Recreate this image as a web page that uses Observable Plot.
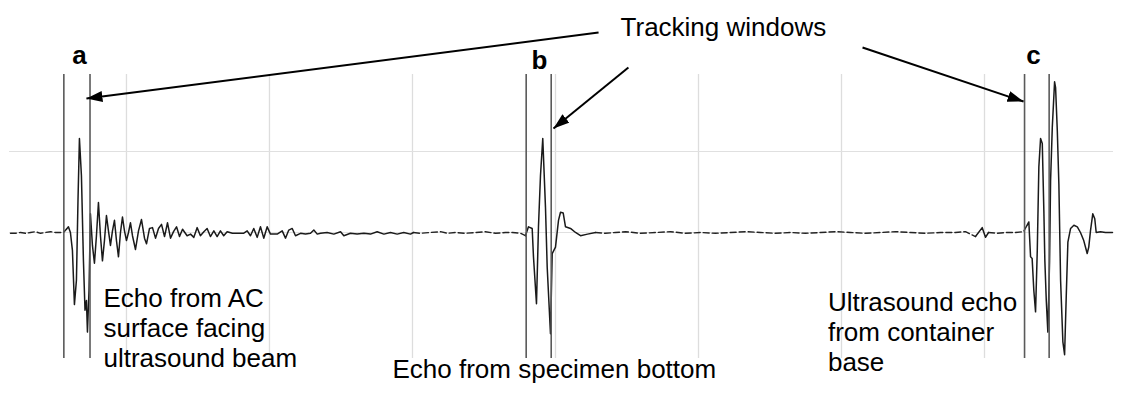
<!DOCTYPE html>
<html>
<head>
<meta charset="utf-8">
<script src="https://cdn.jsdelivr.net/npm/d3@7"></script>
<script src="https://cdn.jsdelivr.net/npm/@observablehq/plot@0.6"></script>
<style>
  html, body { margin: 0; padding: 0; background: #fff; }
  #chart svg { display: block; }
</style>
</head>
<body>
<div id="chart"></div>
<script>
// ---- Data (time in arbitrary sample units, amplitude in grid units) ----
const gridTimes = [100, 200, 300, 400, 500, 600, 700];
const gridAmps = [0, 1];

// tracking-window edges (a, b, c)
const windowEdges = [56.2, 74.5, 379.5, 397.0, 728.0, 745.2];

const preEcho = [[18.9,-0.01],[22.4,-0.01],[25.9,0],[29.4,-0.01],[32.9,0],[36.4,0.01],[39.9,-0.01],[43.4,0],[46.9,0.01],[50.3,0],[53.8,0],[56.0,0]];

const echoA = [[58.0,0.04],[59.4,0.07],[60.8,0],[62.2,-0.22],[63.6,-0.89],[65.0,-0.59],[66.1,0.40],[67.1,1.16],[68.5,0.70],[69.9,-0.35],[71.0,-0.96],[72.0,-0.84],[72.7,-1.23],[73.8,-0.72],[74.8,0.23],[76.2,-0.16],[77.6,-0.38],[79.0,-0.04],[80.4,0.37],[81.8,-0.04],[83.2,-0.35],[84.6,-0.10],[86.0,0.21],[87.4,0.02],[88.8,-0.16],[90.2,0.02],[91.6,0.15],[93.0,-0.10],[94.4,-0.30],[95.8,0],[97.2,0.19],[98.6,0.02],[100.0,-0.10],[101.4,0],[102.8,0.12],[104.2,-0.04],[106.3,-0.21],[108.4,0.02],[110.5,0.16],[112.6,-0.07],[114.0,-0.14],[116.1,0.05],[118.2,0.06],[120.3,-0.07],[122.4,0.05],[124.5,0.10],[126.6,-0.05],[128.7,0.12],[130.8,-0.07],[132.9,0.01],[135.0,0.07],[137.1,-0.05],[139.2,0.04]];

const decay = [[142.4,-0.04],[144.8,-0.02],[147.1,-0.06],[149.4,0.06],[151.7,-0.04],[154.1,0.01],[156.4,0.05],[158.7,-0.05],[161.1,0.02],[163.4,-0.05],[165.7,0.02],[168.0,-0.04],[170.4,0.01],[174.1,-0.01],[178.3,-0.01],[181.8,-0.01],[184.4,0.02],[186.7,-0.04],[189.0,0.05],[191.4,-0.06],[193.7,0.07],[196.0,-0.07],[198.4,0.07],[200.7,-0.02],[205.4,-0.02],[208.9,0.02],[211.2,-0.07],[213.5,0.03],[215.9,0.05],[218.2,-0.04],[221.7,-0.01],[225.2,-0.02],[228.7,-0.01],[231.0,0.03],[233.4,-0.02],[235.7,-0.01],[240.3,0],[245.0,-0.02],[249.7,0.01],[252.0,-0.04],[256.6,-0.01],[261.3,-0.02],[266.0,-0.01],[270.6,-0.02],[275.3,0.01],[280.0,-0.02],[284.6,0],[289.3,-0.02],[293.9,0],[298.6,-0.02],[300.7,0]];

const lateNoise = [[305.6,-0.01],[312.6,0],[319.6,0.01],[324.5,-0.01],[330.0,0],[337.1,-0.01],[344.1,0],[351.0,0.01],[358.0,-0.01],[365.0,0],[369.9,0],[375.5,-0.01]];

const echoB = [[379.0,-0.04],[381.1,0.07],[383.7,0.05],[384.6,-0.30],[386.7,-0.88],[388.1,0.07],[389.5,0.70],[391.1,1.16],[393.0,0.31],[394.2,-0.43],[396.5,-1.25],[397.7,-0.26],[400.0,-0.18],[402.1,0.15],[403.5,0.25],[405.4,0.24],[407.0,0.07],[410.5,0.05],[414.0,0],[417.5,-0.04],[422.4,-0.02],[428.0,0]];

const quiet = [[435.0,-0.01],[442.0,0],[449.0,0.01],[459.4,-0.01],[469.9,0],[480.4,0.01],[490.9,-0.01],[501.4,0],[511.9,-0.01],[522.4,0],[532.9,0.01],[543.4,0],[553.8,-0.01],[564.3,0],[574.8,-0.01],[585.3,0],[595.8,0.01],[606.3,0],[616.8,-0.01],[627.3,0],[637.8,0.01],[648.3,0],[658.7,-0.01],[669.2,0],[679.7,0],[686.7,0.01]];

const bumpNearC = [[693.7,-0.05],[698.4,0.06],[700.7,-0.06],[702.8,0]];

const preC = [[708.9,-0.01],[714.6,0],[721.7,0],[727.3,0.01]];

const echoC = [[729.8,0.09],[731.0,0.13],[732.2,-0.30],[733.3,-0.32],[734.5,-0.72],[735.7,-0.98],[736.9,-0.22],[738.0,0.81],[739.2,1.16],[740.4,1.10],[741.5,0.27],[742.2,-0.35],[743.2,-0.84],[744.3,-1.23],[745.5,-0.35],[746.2,0.64],[747.4,1.30],[749.0,1.86],[749.7,1.79],[750.9,1.26],[752.0,0.60],[753.2,-0.59],[754.8,-1.35],[756.0,-1.51],[757.2,-0.76],[758.3,-0.12],[760.2,0.05],[762.5,0.09],[764.9,0.07],[767.1,0],[769.4,-0.10],[771.8,-0.26],[772.9,-0.18],[774.1,0.02],[775.7,0.23],[777.1,0.17],[778.1,0],[781.1,0.01],[784.6,0],[789.5,0]];

// annotation arrows: from label toward window edge
const arrowFrom = [[430.1, 2.469], [451.0, 2.037], [614.7, 2.284]];
const arrowTo   = [[72.0, 1.654], [398.6, 1.284], [727.3, 1.617]];

const windowLetters = ["a", "b", "c"];
const letterPos = [[67.1, 2.086], [388.8, 2.025], [734.3, 2.086]];

const titleText = "Tracking windows";
const titlePos = [445.5, 2.432];

const captions = ["Echo from AC\nsurface facing\nultrasound beam", "Echo from specimen bottom", "Ultrasound echo\nfrom container\nbase"];
const captionPos = [[83.9, -1.667], [286.0, -1.802], [590.5, -1.716]];

// ---- Build tables ----
const toRows = arr => arr.map(([t, v]) => ({t, v}));
// dashed (quiet) stretches and solid (echo) stretches, sharing end points so the trace is continuous
const dashedParts = [
  [...preEcho, echoA[0]],
  [decay[decay.length - 1], ...lateNoise, echoB[0]],
  [echoB[echoB.length - 1], ...quiet, bumpNearC[0]],
  [bumpNearC[bumpNearC.length - 1], ...preC, echoC[0]]
];
const solidParts = [
  [...echoA, ...decay],
  [...echoB],
  [...bumpNearC],
  [...echoC]
];
const dashedRows = dashedParts.flatMap((p, k) => toRows(p).map(r => ({...r, k})));
const solidRows = solidParts.flatMap((p, k) => toRows(p).map(r => ({...r, k})));

const arrows = arrowFrom.map((f, i) => ({x1: f[0], y1: f[1], x2: arrowTo[i][0], y2: arrowTo[i][1]}));
const letters = windowLetters.map((s, i) => ({s, x: letterPos[i][0], y: letterPos[i][1]}));
const caps = captions.map((s, i) => ({s, x: captionPos[i][0], y: captionPos[i][1]}));

function filledArrow(color) {
  const m = d3.create("svg:marker")
    .attr("viewBox", "-16 -6 16 12")
    .attr("markerWidth", 16)
    .attr("markerHeight", 12)
    .attr("markerUnits", "userSpaceOnUse")
    .attr("orient", "auto")
    .attr("fill", color)
    .attr("stroke", "none");
  m.append("path").attr("d", "M-16,-5.5L0,0L-16,5.5Z");
  return m.node();
}

const font = "Arial, 'Liberation Sans', sans-serif";
const fs = 26;

const chart = Plot.plot({
  width: 1121,
  height: 394,
  marginTop: 74,
  marginBottom: 36,
  marginLeft: 9,
  marginRight: 8,
  x: {domain: [18.2, 790.2], axis: null},
  y: {domain: [-1.556, 1.951], axis: null},
  style: {background: "white", overflow: "visible", fontFamily: font},
  marks: [
    Plot.ruleX(gridTimes, {stroke: "#dddddd", strokeWidth: 1.3}),
    Plot.ruleY(gridAmps, {stroke: "#e0e0e0", strokeWidth: 1.2}),
    Plot.line(dashedRows, {x: "t", y: "v", z: "k", stroke: "#222", strokeWidth: 1.4, strokeDasharray: "6,3"}),
    Plot.line(solidRows, {x: "t", y: "v", z: "k", stroke: "#1a1a1a", strokeWidth: 1.5}),
    Plot.ruleX(windowEdges, {stroke: "#5a5a5a", strokeWidth: 1.6}),
    Plot.link(arrows, {x1: "x1", y1: "y1", x2: "x2", y2: "y2", stroke: "#000", strokeWidth: 2, markerEnd: filledArrow}),
    Plot.text(letters, {x: "x", y: "y", text: "s", fontSize: fs, fontWeight: "bold", textAnchor: "middle", lineAnchor: "bottom", fill: "#000", fontFamily: font}),
    Plot.text([titleText], {x: () => titlePos[0], y: () => titlePos[1], text: d => d, fontSize: fs, textAnchor: "start", lineAnchor: "bottom", fill: "#000", fontFamily: font}),
    Plot.text(caps, {x: "x", y: "y", text: "s", fontSize: fs, textAnchor: "start", lineAnchor: "bottom", lineHeight: 30 / fs, fill: "#000", fontFamily: font})
  ]
});

document.getElementById("chart").appendChild(chart);
</script>
</body>
</html>
